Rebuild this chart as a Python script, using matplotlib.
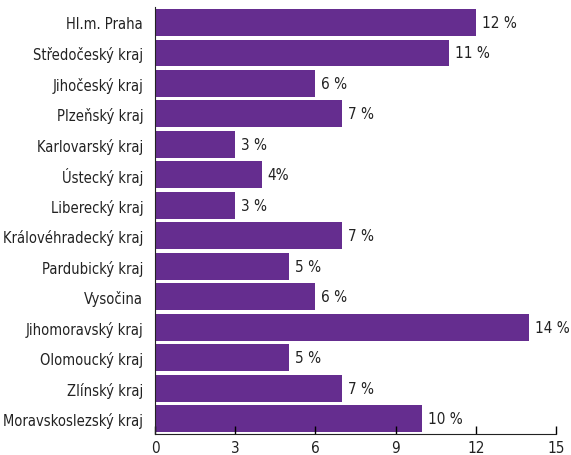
import matplotlib
matplotlib.use('Agg')
import matplotlib.pyplot as plt

kraje = ['Hl.m. Praha', 'Středočeský kraj', 'Jihočeský kraj', 'Plzeňský kraj',
         'Karlovarský kraj', 'Ústecký kraj', 'Liberecký kraj', 'Královéhradecký kraj',
         'Pardubický kraj', 'Vysočina', 'Jihomoravský kraj', 'Olomoucký kraj',
         'Zlínský kraj', 'Moravskoslezský kraj']
podil = [12, 11, 6, 7, 3, 4, 3, 7, 5, 6, 14, 5, 7, 10]
popisky = ['12 %', '11 %', '6 %', '7 %', '3 %', '4%', '3 %', '7 %', '5 %', '6 %',
           '14 %', '5 %', '7 %', '10 %']
xticks = [0, 3, 6, 9, 12, 15]

plt.rcParams['font.family'] = ['DejaVu Sans']
plt.rcParams['font.stretch'] = 'condensed'

fig = plt.figure(figsize=(5.71, 4.56), dpi=100)
ax = fig.add_axes([0.2715, 0.046, 0.7022, 0.936])

y = list(range(len(kraje)))
ax.barh(y, podil, height=0.88, color='#652d8f')
for yi, v, t in zip(y, podil, popisky):
    ax.text(v + 0.22, yi, t, va='center', ha='left', fontsize=11, color='#222222')

ax.set_yticks(y)
ax.set_yticklabels(kraje, fontsize=10.5, color='#222222')
ax.set_ylim(len(kraje) - 0.5, -0.5)
ax.set_xlim(0, 15)
ax.set_xticks(xticks)
ax.set_xticklabels([str(x) for x in xticks], fontsize=11, color='#222222')
ax.tick_params(axis='y', length=0, pad=8.5)
ax.tick_params(axis='x', direction='in', length=6, width=1, pad=4)
ax.spines['top'].set_visible(False)
ax.spines['right'].set_visible(False)
ax.spines['left'].set_color('#222222')
ax.spines['bottom'].set_color('#222222')

fig.savefig('out.png', dpi=100)
